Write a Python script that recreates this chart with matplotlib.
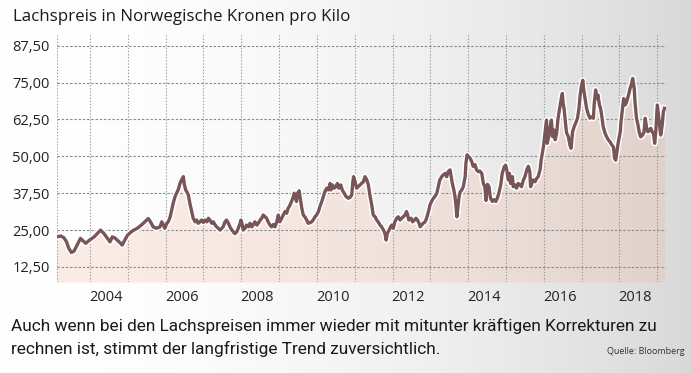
import numpy as np
import matplotlib
matplotlib.use("Agg")
import matplotlib.pyplot as plt
from matplotlib.ticker import FixedLocator

# ---- data (fractional year, NOK per kilo) ----
dates = [
    2003.12, 2003.23, 2003.31, 2003.38, 2003.44, 2003.51, 2003.58, 2003.66, 2003.75, 2003.82,
    2003.89, 2003.93, 2004.02, 2004.11, 2004.19, 2004.28, 2004.37, 2004.46, 2004.53, 2004.59,
    2004.65, 2004.72, 2004.81, 2004.85, 2004.92, 2004.99, 2005.08, 2005.16, 2005.25,
    2005.32, 2005.41, 2005.50, 2005.54, 2005.60, 2005.67, 2005.76, 2005.85, 2005.90, 2005.94,
    2005.98, 2006.03, 2006.07, 2006.12, 2006.16, 2006.20, 2006.25, 2006.29, 2006.33, 2006.38,
    2006.42, 2006.47, 2006.49, 2006.53, 2006.56, 2006.60, 2006.64, 2006.69, 2006.73, 2006.78,
    2006.82, 2006.86, 2006.91, 2006.95, 2007.00, 2007.04, 2007.09, 2007.13, 2007.17, 2007.22,
    2007.26, 2007.31, 2007.35, 2007.44, 2007.52,
    2007.57, 2007.61, 2007.66, 2007.70, 2007.75, 2007.79, 2007.83, 2007.88, 2007.92, 2007.97,
    2007.99, 2008.03, 2008.05, 2008.10, 2008.14, 2008.19, 2008.23, 2008.28, 2008.32, 2008.36,
    2008.41, 2008.45, 2008.50, 2008.54, 2008.58, 2008.63, 2008.67, 2008.71, 2008.76, 2008.80,
    2008.85, 2008.89, 2008.94, 2008.98, 2009.00, 2009.02, 2009.07, 2009.11, 2009.16, 2009.20,
    2009.24, 2009.29, 2009.33, 2009.38, 2009.40, 2009.44, 2009.46, 2009.49, 2009.53, 2009.56,
    2009.60, 2009.64, 2009.68, 2009.73, 2009.77,
    2009.82, 2009.86, 2009.90, 2009.95, 2009.99, 2010.04, 2010.08, 2010.13, 2010.17, 2010.21,
    2010.26, 2010.30, 2010.35, 2010.37, 2010.41, 2010.45, 2010.50, 2010.54, 2010.58, 2010.63,
    2010.67, 2010.72, 2010.77, 2010.83, 2010.87, 2010.92, 2010.95, 2010.97, 2011.01, 2011.05,
    2011.09, 2011.14, 2011.18, 2011.23, 2011.27, 2011.32, 2011.36, 2011.40, 2011.45, 2011.49,
    2011.54, 2011.58, 2011.62, 2011.67, 2011.71, 2011.76, 2011.80, 2011.83, 2011.86, 2011.91,
    2011.95, 2011.98, 2012.02,
    2012.06, 2012.11, 2012.15, 2012.20, 2012.24, 2012.28, 2012.33, 2012.37, 2012.40, 2012.43,
    2012.49, 2012.53, 2012.58, 2012.62, 2012.66, 2012.70, 2012.73, 2012.77, 2012.81, 2012.86,
    2012.90, 2012.95, 2012.99, 2013.03, 2013.08, 2013.12, 2013.17, 2013.21, 2013.25, 2013.30,
    2013.34, 2013.39, 2013.43, 2013.47, 2013.52, 2013.55, 2013.58, 2013.62, 2013.65, 2013.68,
    2013.70, 2013.73, 2013.76, 2013.79, 2013.83, 2013.87, 2013.92, 2013.94, 2013.97, 2014.00,
    2014.05, 2014.09, 2014.13, 2014.18, 2014.22, 2014.27,
    2014.31, 2014.36, 2014.40, 2014.44, 2014.47, 2014.51, 2014.55, 2014.59, 2014.64, 2014.68,
    2014.73, 2014.77, 2014.81, 2014.86, 2014.90, 2014.95, 2014.99, 2015.02, 2015.06, 2015.09,
    2015.12, 2015.17, 2015.19, 2015.24, 2015.28, 2015.32, 2015.37, 2015.41, 2015.46, 2015.50,
    2015.55, 2015.59, 2015.63, 2015.65, 2015.68, 2015.72, 2015.77, 2015.81, 2015.85, 2015.90,
    2015.93, 2015.96, 2015.99, 2016.01, 2016.03, 2016.05, 2016.07, 2016.09, 2016.13, 2016.16,
    2016.20, 2016.23, 2016.27, 2016.30, 2016.34, 2016.37, 2016.41, 2016.44, 2016.46, 2016.49,
    2016.51, 2016.54,
    2016.57, 2016.60, 2016.65, 2016.69, 2016.72, 2016.76, 2016.80, 2016.84, 2016.89, 2016.93,
    2016.96, 2017.00, 2017.03, 2017.05, 2017.09, 2017.13, 2017.18, 2017.22, 2017.27, 2017.31,
    2017.33, 2017.37, 2017.40, 2017.43, 2017.47, 2017.50, 2017.54, 2017.57, 2017.62, 2017.66,
    2017.71, 2017.75, 2017.80, 2017.84, 2017.87, 2017.90, 2017.94, 2017.97, 2018.02, 2018.04,
    2018.08, 2018.11, 2018.15, 2018.19, 2018.24, 2018.28, 2018.31, 2018.35, 2018.39, 2018.41,
    2018.45, 2018.49, 2018.52, 2018.56, 2018.61, 2018.65, 2018.68, 2018.72, 2018.75, 2018.79,
    2018.83, 2018.86, 2018.90, 2018.93, 2018.96, 2019.00, 2019.04, 2019.09, 2019.13, 2019.16,
    2019.19,
]
prices = [
    22.7, 23.0, 22.4, 21.0, 18.8, 17.4, 17.9, 19.9, 22.2, 21.3,
    20.5, 21.0, 21.9, 22.7, 23.8, 25.0, 23.8, 22.2, 21.0, 22.7,
    22.4, 21.6, 20.5, 19.9, 21.6, 23.2, 24.3, 25.0, 25.6,
    26.3, 27.3, 28.4, 28.9, 27.8, 26.1, 25.6, 26.1, 27.8, 26.7,
    25.6, 27.3, 27.8, 29.5, 31.8, 34.1, 36.4, 37.5, 38.6, 40.8,
    42.0, 43.1, 40.8, 38.6, 38.0, 36.9, 34.1, 31.3, 29.0, 27.8,
    28.4, 27.3, 27.8, 28.4, 27.6, 28.4, 27.8, 29.0, 28.4, 27.3,
    27.8, 26.7, 26.1, 25.0, 26.1,
    27.8, 28.4, 27.3, 26.1, 25.0, 24.4, 23.8, 24.4, 25.6, 27.3,
    28.4, 26.7, 25.0, 25.6, 26.7, 26.1, 27.3, 26.1, 26.9, 27.8,
    26.7, 27.3, 28.4, 29.0, 30.1, 29.5, 29.0, 27.8, 26.7, 26.1,
    26.9, 26.1, 27.8, 30.1, 28.4, 27.8, 29.0, 30.1, 31.3, 30.7,
    32.4, 33.5, 34.7, 36.4, 37.5, 35.8, 34.7, 37.5, 38.3, 35.8,
    32.4, 30.1, 29.5, 28.4, 27.3,
    27.5, 27.8, 28.4, 29.5, 30.1, 31.3, 33.0, 34.7, 36.4, 38.0,
    39.2, 38.6, 40.8, 38.6, 40.3, 39.2, 39.7, 40.8, 39.2, 40.3,
    38.6, 37.5, 36.4, 35.8, 36.0, 36.9, 41.4, 43.1, 41.4, 39.2,
    39.7, 40.3, 40.8, 41.4, 43.1, 42.0, 40.3, 36.9, 33.5, 30.1,
    29.5, 28.4, 27.8, 26.7, 26.1, 25.0, 23.8, 21.6, 23.8, 25.0,
    26.1, 26.7, 25.6,
    27.8, 29.0, 29.5, 28.4, 29.0, 29.5, 30.1, 31.3, 30.1, 28.4,
    29.0, 27.8, 28.4, 29.0, 28.4, 27.3, 26.1, 26.7, 27.3, 27.8,
    29.0, 31.3, 33.5, 34.7, 35.8, 36.4, 37.5, 39.7, 42.0, 43.1,
    43.7, 44.2, 43.1, 44.8, 45.4, 43.1, 40.8, 38.6, 36.4, 33.0,
    29.5, 33.0, 36.4, 38.0, 38.6, 39.7, 43.1, 47.7, 50.5, 50.0,
    49.4, 48.3, 46.6, 47.2, 45.4, 44.8,
    45.0, 44.2, 40.8, 39.7, 35.0, 40.5, 39.7, 35.8, 34.7, 35.3,
    34.7, 35.8, 37.5, 40.3, 44.2, 46.4, 47.0, 45.4, 42.0, 44.2,
    40.8, 43.1, 39.7, 40.3, 39.2, 40.8, 40.3, 39.7, 42.0, 43.1,
    45.4, 46.6, 44.8, 39.7, 40.8, 42.0, 41.4, 42.5, 43.1, 45.4,
    48.8, 51.1, 53.3, 55.6, 57.9, 60.1, 62.3, 54.4, 56.7, 59.5,
    62.3, 56.7, 58.9, 55.6, 57.9, 62.3, 65.7, 67.9, 69.6, 71.3,
    67.9, 65.7,
    61.5, 58.0, 56.6, 53.8, 52.7, 58.3, 60.0, 61.2, 62.9, 66.3,
    70.8, 74.2, 75.8, 73.0, 69.6, 66.3, 64.0, 62.9, 63.4, 62.9,
    67.4, 72.5, 69.6, 70.8, 67.4, 66.3, 62.9, 60.0, 57.8, 56.6,
    55.5, 54.9, 53.8, 53.2, 49.3, 48.7, 52.1, 54.9, 58.3, 61.7,
    66.3, 69.6, 67.4, 68.5, 70.8, 73.0, 74.2, 76.4, 73.0, 68.5,
    62.9, 60.6, 58.3, 56.6, 57.2, 58.3, 62.9, 59.5, 58.3, 58.9,
    59.5, 58.3, 57.8, 54.4, 58.3, 67.4, 62.9, 57.2, 60.6, 65.1,
    66.3,
]
y_ticks = [12.5, 25.0, 37.5, 50.0, 62.5, 75.0, 87.5]
y_tick_labels = ["12,50", "25,00", "37,50", "50,00", "62,50", "75,00", "87,50"]
x_label_years = [2004, 2006, 2008, 2010, 2012, 2014, 2016, 2018]
grid_years = list(range(2004, 2020))

title = "Lachspreis in Norwegische Kronen pro Kilo"
caption_lines = ["Auch wenn bei den Lachspreisen immer wieder mit mitunter kräftigen Korrekturen zu",
                 "rechnen ist, stimmt der langfristige Trend zuversichtlich."]
source = "Quelle: Bloomberg"

# ---- figure ----
W, H, DPI = 691, 373, 100
fig = plt.figure(figsize=(W / DPI, H / DPI), dpi=DPI)
renderer = fig.canvas.get_renderer()

# background gradient (white left -> light grey right)
bg = fig.add_axes([0, 0, 1, 1], zorder=-10)
xs = np.linspace(0, 1, 400)
shade = 1.0 - 0.15 * xs ** 1.9
img = np.tile(shade, (10, 1))
bg.imshow(np.dstack([img, img, img]), aspect="auto", extent=[0, 1, 0, 1], vmin=0, vmax=1)
bg.set_axis_off()

FONT = "Open Sans"
x0, x1 = 2003.12, 2019.23
y0, y1 = 7.4, 91.8

ax = fig.add_axes([56.7 / W, 1 - 282 / H, (666 - 56.7) / W, (282 - 33) / H])
ax.set_facecolor("none")
ax.set_xlim(x0, x1)
ax.set_ylim(y0, y1)

ax.fill_between(dates, prices, y0, color="#f0b9a3", alpha=0.27, lw=0, zorder=1)
ax.plot(dates, prices, color="white", lw=4.6, solid_joinstyle="round", zorder=3)
ax.plot(dates, prices, color="#7a5557", lw=2.4, solid_joinstyle="round", zorder=4)

# grid
for yv in y_ticks:
    ax.axhline(yv, color="#8c8c8c", lw=0.8, ls=(0, (2.2, 1.6)), zorder=2)
for xv in grid_years + [x0]:
    ax.axvline(xv, color="#9a9a9a", lw=0.8, ls=(0, (1.2, 1.6)), zorder=2)

for s in ax.spines.values():
    s.set_visible(False)

ax.yaxis.set_major_locator(FixedLocator(y_ticks))
ax.set_yticklabels(y_tick_labels, fontsize=10.5, family=FONT, color="#222222")
ax.tick_params(axis="y", length=0, pad=5)
ax.xaxis.set_major_locator(FixedLocator([yr + 0.42 for yr in x_label_years]))
ax.set_xticklabels([str(y) for y in x_label_years], fontsize=10.5, family=FONT, color="#222222")
ax.tick_params(axis="x", length=0, pad=6)


def fit_text(x_px, y_px, s, target_w, size, **kw):
    t = fig.text(x_px / W, 1 - y_px / H, s, fontsize=size, **kw)
    w = t.get_window_extent(renderer).width
    t.set_fontsize(size * target_w / w)
    return t


fit_text(13, 17, title, 334, 13, family=FONT, color="#1a1a1a", ha="left", va="center")
fit_text(11, 326, caption_lines[0], 646, 12.5, family="Roboto", color="#1a1a1a",
         ha="left", va="center")
t2 = fig.text(11 / W, 1 - 349 / H, caption_lines[1], family="Roboto", color="#1a1a1a",
              ha="left", va="center")
t2.set_fontsize(fig.texts[-2].get_fontsize())
fig.text(685 / W, 1 - 351 / H, source, fontsize=6.5, family=FONT, color="#333333",
         ha="right", va="center")

fig.savefig("out.png", dpi=DPI)
